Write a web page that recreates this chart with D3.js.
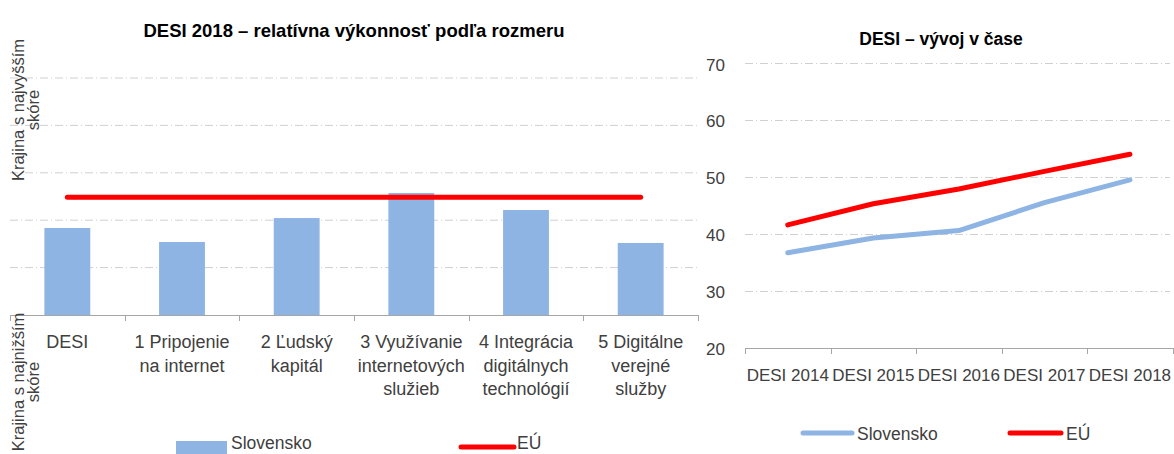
<!DOCTYPE html>
<html>
<head>
<meta charset="utf-8">
<script src="https://cdn.jsdelivr.net/npm/d3@7/dist/d3.min.js"></script>
<style>
  html, body { margin: 0; padding: 0; background: #ffffff; }
  svg { display: block; }
  text { font-family: "Liberation Sans", Arial, sans-serif; }
</style>
</head>
<body>
<svg id="chart" width="1174" height="454"></svg>
<script>
// ---------- DATA ----------
const dimensionLabels = [
  ["DESI"],
  ["1 Pripojenie", "na internet"],
  ["2 Ľudský", "kapitál"],
  ["3 Využívanie", "internetových", "služieb"],
  ["4 Integrácia", "digitálnych", "technológií"],
  ["5 Digitálne", "verejné", "služby"]
];
const dimensionKeys = ["DESI", "1", "2", "3", "4", "5"];
const slovenskoRelative = [0.367, 0.308, 0.409, 0.515, 0.443, 0.304];
const euRelative = [0.497, 0.497, 0.497, 0.497, 0.497, 0.497];
const relativeGridTicks = [0.2, 0.4, 0.6, 0.8, 1.0];

const years = ["DESI 2014", "DESI 2015", "DESI 2016", "DESI 2017", "DESI 2018"];
const slovenskoTrend = [36.7, 39.3, 40.6, 45.5, 49.5];
const euTrend = [41.6, 45.3, 47.9, 51.0, 54.0];
const trendTicks = [20, 30, 40, 50, 60, 70];

const seriesNames = ["Slovensko", "EÚ"];
const titleLeft = "DESI 2018 – relatívna výkonnosť podľa rozmeru";
const titleRight = "DESI – vývoj v čase";
const axisNoteTop = ["Krajina s najvyšším", "skóre"];
const axisNoteBottom = ["Krajina s najnižším", "skóre"];

// ---------- STYLE ----------
const BLUE = "#8EB4E3";
const RED = "#FF0000";
const GRID = "#D0D0D0";
const AXIS = "#A6A6A6";
const TXT = "#404040";

const svg = d3.select("#chart");

// ================= LEFT CHART =================
const xL = d3.scaleBand().domain(dimensionKeys).range([10, 698]).paddingInner(0).paddingOuter(0);
const yL = d3.scaleLinear().domain([0, 1]).range([315, 78]);

const gL = svg.append("g");

// gridlines
gL.append("g").selectAll("line").data(relativeGridTicks).join("line")
  .attr("x1", 10).attr("x2", 698)
  .attr("y1", d => yL(d)).attr("y2", d => yL(d))
  .attr("stroke", GRID).attr("stroke-width", 1)
  .attr("stroke-dasharray", "8,3,1,3");

// bars
const barW = xL.bandwidth() * 0.4;
gL.append("g").selectAll("rect").data(slovenskoRelative).join("rect")
  .attr("x", (d, i) => xL(dimensionKeys[i]) + (xL.bandwidth() - barW) / 2)
  .attr("width", barW)
  .attr("y", d => yL(d))
  .attr("height", d => yL(0) - yL(d))
  .attr("fill", BLUE);

// x axis
const axL = gL.append("g").attr("transform", `translate(0,${yL(0)})`)
  .call(d3.axisBottom(xL).tickSize(0).tickFormat(""));
axL.select(".domain").attr("stroke", AXIS).attr("d", "M10.5,0.5H698");
const boundsL = dimensionKeys.map(k => xL(k)).concat([xL.range()[1]]);
gL.append("g").selectAll("line").data(boundsL).join("line")
  .attr("x1", d => Math.round(d) + 0.5).attr("x2", d => Math.round(d) + 0.5)
  .attr("y1", yL(0)).attr("y2", yL(0) + 6)
  .attr("stroke", AXIS).attr("stroke-width", 1);

// category labels
const catG = gL.append("g");
dimensionLabels.forEach((lines, i) => {
  const cx = xL(dimensionKeys[i]) + xL.bandwidth() / 2;
  const t = catG.append("text")
    .attr("x", cx).attr("y", 348)
    .attr("text-anchor", "middle")
    .attr("font-size", "18px")
    .attr("fill", TXT);
  lines.forEach((ln, j) => {
    t.append("tspan").attr("x", cx).attr("y", 348 + j * 23.5).text(ln);
  });
});

// EU line
const lineL = d3.line()
  .x((d, i) => xL(dimensionKeys[i]) + xL.bandwidth() / 2)
  .y(d => yL(d));
gL.append("path").datum(euRelative)
  .attr("d", lineL)
  .attr("fill", "none").attr("stroke", RED)
  .attr("stroke-width", 5).attr("stroke-linecap", "round");

// title
gL.append("text").attr("x", 354).attr("y", 37)
  .attr("text-anchor", "middle").attr("font-weight", "bold")
  .attr("font-size", "18.5px").attr("fill", "#000").text(titleLeft);

// rotated axis notes
function rotatedNote(lines, cy) {
  const g = gL.append("g");
  lines.forEach((ln, j) => {
    const bx = 24 + j * 15;
    g.append("text")
      .attr("transform", `translate(${bx},${cy}) rotate(-90)`)
      .attr("text-anchor", "middle")
      .attr("font-size", "16.5px")
      .attr("fill", TXT)
      .text(ln);
  });
}
rotatedNote(axisNoteTop, 110);
rotatedNote(axisNoteBottom, 382);

// legend left
const legL = gL.append("g");
legL.append("rect").attr("x", 176).attr("y", 441).attr("width", 51).attr("height", 13).attr("fill", BLUE);
legL.append("text").attr("x", 231).attr("y", 449).attr("font-size", "17.5px").attr("fill", TXT).text(seriesNames[0]);
legL.append("line").attr("x1", 461).attr("x2", 514).attr("y1", 447).attr("y2", 447)
  .attr("stroke", RED).attr("stroke-width", 5).attr("stroke-linecap", "round");
legL.append("text").attr("x", 517).attr("y", 449).attr("font-size", "17.5px").attr("fill", TXT).text(seriesNames[1]);

// ================= RIGHT CHART =================
const xR = d3.scaleBand().domain(years).range([745, 1172.7]).paddingInner(0).paddingOuter(0);
const yR = d3.scaleLinear().domain([20, 70]).range([347.7, 63.3]);
const gR = svg.append("g");

// gridlines
gR.append("g").selectAll("line").data(trendTicks.filter(d => d > 20)).join("line")
  .attr("x1", 745).attr("x2", 1170)
  .attr("y1", d => Math.round(yR(d)) + 0.5).attr("y2", d => Math.round(yR(d)) + 0.5)
  .attr("stroke", GRID).attr("stroke-width", 1)
  .attr("stroke-dasharray", "8,3,1,3");

// y labels
const ayR = gR.append("g").attr("transform", "translate(725,0)")
  .call(d3.axisLeft(yR).tickValues(trendTicks).tickSize(0).tickPadding(0));
ayR.select(".domain").remove();
ayR.selectAll("text").attr("font-size", "17px").attr("fill", TXT)
  .attr("font-family", "Liberation Sans, Arial, sans-serif").attr("dy", "0.4em");

// x axis
const axR = gR.append("g").attr("transform", `translate(0,${Math.round(yR(20)) + 0.5})`)
  .call(d3.axisBottom(xR).tickSize(0).tickPadding(0));
axR.select(".domain").attr("stroke", AXIS).attr("d", "M745,0H1173");
axR.selectAll("text").attr("font-size", "17px").attr("fill", TXT)
  .attr("font-family", "Liberation Sans, Arial, sans-serif")
  .attr("dy", 0).attr("y", 32);
const boundsR = years.map(k => xR(k)).concat([xR.range()[1]]);
gR.append("g").selectAll("line").data(boundsR).join("line")
  .attr("x1", d => Math.round(d) + 0.5).attr("x2", d => Math.round(d) + 0.5)
  .attr("y1", Math.round(yR(20))).attr("y2", Math.round(yR(20)) + 6)
  .attr("stroke", AXIS).attr("stroke-width", 1);

// lines
const lineR = d3.line()
  .x((d, i) => xR(years[i]) + xR.bandwidth() / 2)
  .y(d => yR(d));
gR.append("path").datum(slovenskoTrend).attr("d", lineR)
  .attr("fill", "none").attr("stroke", BLUE).attr("stroke-width", 5)
  .attr("stroke-linecap", "round").attr("stroke-linejoin", "round");
gR.append("path").datum(euTrend).attr("d", lineR)
  .attr("fill", "none").attr("stroke", RED).attr("stroke-width", 5)
  .attr("stroke-linecap", "round").attr("stroke-linejoin", "round");

// title
gR.append("text").attr("x", 941).attr("y", 45)
  .attr("text-anchor", "middle").attr("font-weight", "bold")
  .attr("font-size", "17.5px").attr("fill", "#000").text(titleRight);

// legend right
const legR = gR.append("g");
legR.append("line").attr("x1", 803).attr("x2", 852).attr("y1", 433).attr("y2", 433)
  .attr("stroke", BLUE).attr("stroke-width", 5).attr("stroke-linecap", "round");
legR.append("text").attr("x", 857).attr("y", 440).attr("font-size", "17.5px").attr("fill", TXT).text(seriesNames[0]);
legR.append("line").attr("x1", 1010).attr("x2", 1061).attr("y1", 433).attr("y2", 433)
  .attr("stroke", RED).attr("stroke-width", 5).attr("stroke-linecap", "round");
legR.append("text").attr("x", 1066).attr("y", 440).attr("font-size", "17.5px").attr("fill", TXT).text(seriesNames[1]);
</script>
</body>
</html>
